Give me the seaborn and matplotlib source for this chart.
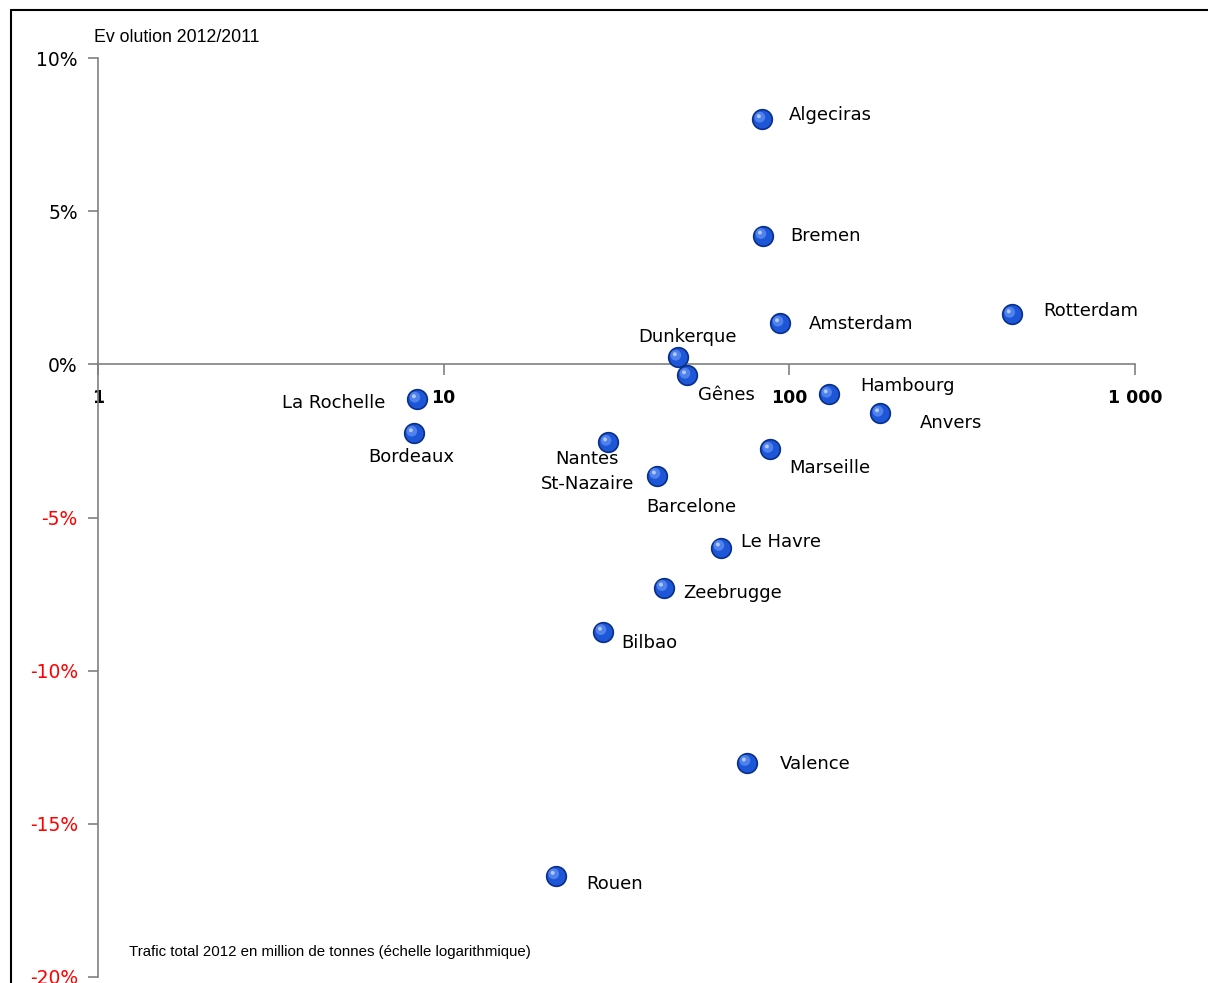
import numpy as np
import pandas as pd
import matplotlib
matplotlib.use("Agg")
import matplotlib.pyplot as plt
import seaborn as sns
from matplotlib.lines import Line2D
from matplotlib.transforms import offset_copy

ports = ["Algeciras", "Bremen", "Rotterdam", "Amsterdam", "Dunkerque", "Gênes",
         "La Rochelle", "Hambourg", "Anvers", "Bordeaux", "Nantes\nSt-Nazaire",
         "Marseille", "Barcelone", "Le Havre", "Zeebrugge", "Bilbao", "Valence", "Rouen"]
trafic = [83.3, 83.9, 440, 94, 47.6, 50.6, 8.37, 130, 183, 8.2, 29.9,
          87.9, 41.4, 63.4, 43.4, 28.9, 75.4, 21.1]
evolution = [8.0, 4.2, 1.63, 1.34, 0.23, -0.36, -1.14, -0.98, -1.6, -2.25, -2.55,
             -2.78, -3.63, -5.98, -7.29, -8.73, -13.0, -16.7]

x_ticks = [1, 10, 100, 1000]
x_tick_labels = ["1", "10", "100", "1 000"]
y_ticks = [10, 5, 0, -5, -10, -15, -20]
y_tick_labels = ["10%", "5%", "0%", "-5%", "-10%", "-15%", "-20%"]

# label placement (pixel offsets, ha)
label_style = {
    "Algeciras": (27, 4, "left"), "Bremen": (27, 0, "left"), "Rotterdam": (31, 3, "left"),
    "Amsterdam": (29, -1, "left"), "Dunkerque": (10, 20, "center"), "Gênes": (39, -20, "center"),
    "La Rochelle": (-32, -4, "right"), "Hambourg": (32, 8, "left"), "Anvers": (40, -10, "left"),
    "Bordeaux": (-3, -24, "center"), "Nantes\nSt-Nazaire": (-21, -29, "center"),
    "Marseille": (19, -19, "left"), "Barcelone": (34, -31, "center"), "Le Havre": (20, 6, "left"),
    "Zeebrugge": (19, -5, "left"), "Bilbao": (18, -11, "left"), "Valence": (33, -1, "left"),
    "Rouen": (30, -8, "left"),
}

df = pd.DataFrame({"port": ports, "trafic": trafic, "evolution": evolution})

sns.set_style("white")
plt.rcParams["font.family"] = ["DejaVu Sans"]

W, H = 1208, 983
fig = plt.figure(figsize=(W / 100, H / 100), dpi=100)
ax = fig.add_axes([98 / W, 1 - 977 / H, (1135 - 98) / W, (977 - 58) / H])

ax.set_xscale("log")
ax.set_xlim(1, 1000)
ax.set_ylim(-20, 10)

sns.scatterplot(data=df, x="trafic", y="evolution", ax=ax, s=200, color="#1d56d6",
                edgecolor="#0a2f8a", linewidth=1.2, legend=False, zorder=3, clip_on=False)
# highlight for sphere look
hl = offset_copy(ax.transData, fig=fig, x=-1.5, y=1.5, units="points")
ax.scatter(df["trafic"], df["evolution"], s=60, color="#4f82ec", edgecolor="none",
           zorder=4, transform=hl, clip_on=False)
hl2 = offset_copy(ax.transData, fig=fig, x=-2.2, y=2.2, units="points")
ax.scatter(df["trafic"], df["evolution"], s=8, color="#b4c8f8", edgecolor="none",
           zorder=5, transform=hl2, clip_on=False)

for _, r in df.iterrows():
    dx, dy, ha = label_style[r["port"]]
    tr = offset_copy(ax.transData, fig=fig, x=dx * 0.72, y=dy * 0.72, units="points")
    ax.text(r["trafic"], r["evolution"], r["port"], transform=tr, ha=ha, va="center",
            fontsize=13, color="black", linespacing=1.45, zorder=6)

# spines
for s in ["top", "right"]:
    ax.spines[s].set_visible(False)
ax.spines["bottom"].set_position(("data", 0))
for s in ["left", "bottom"]:
    ax.spines[s].set_color("#808080")
    ax.spines[s].set_linewidth(1.2)

ax.set_xticks(x_ticks)
ax.set_xticklabels(x_tick_labels, fontweight="bold", fontsize=12.5, color="black")
ax.xaxis.set_minor_locator(matplotlib.ticker.NullLocator())
ax.tick_params(axis="x", direction="out", length=8, width=1.2, color="#808080", pad=10,
               bottom=True)
ax.set_yticks(y_ticks)
ax.set_yticklabels(y_tick_labels, fontsize=13.5)
for t, v in zip(ax.get_yticklabels(), y_ticks):
    t.set_color("red" if v < 0 else "black")
ax.tick_params(axis="y", direction="out", length=7.5, width=1.2, color="#808080", pad=7,
               left=True)
ax.set_xlabel("")
ax.set_ylabel("")

fig.text(94 / W, 1 - 37 / H, "Ev olution 2012/2011", fontsize=12.8, va="center", ha="left",
         family="Liberation Sans", color="black")
fig.text(129 / W, 1 - 952 / H, "Trafic total 2012 en million de tonnes (échelle logarithmique)",
         fontsize=10.8, va="center", ha="left", family="Liberation Sans", color="black")

# outer frame (top and left lines)
fig.add_artist(Line2D([10.5 / W, 10.5 / W], [0, 1 - 9.5 / H], transform=fig.transFigure,
                      color="black", lw=1.5))
fig.add_artist(Line2D([10.5 / W, 1], [1 - 9.5 / H, 1 - 9.5 / H], transform=fig.transFigure,
                      color="black", lw=1.5))

fig.savefig("out.png", dpi=100)
